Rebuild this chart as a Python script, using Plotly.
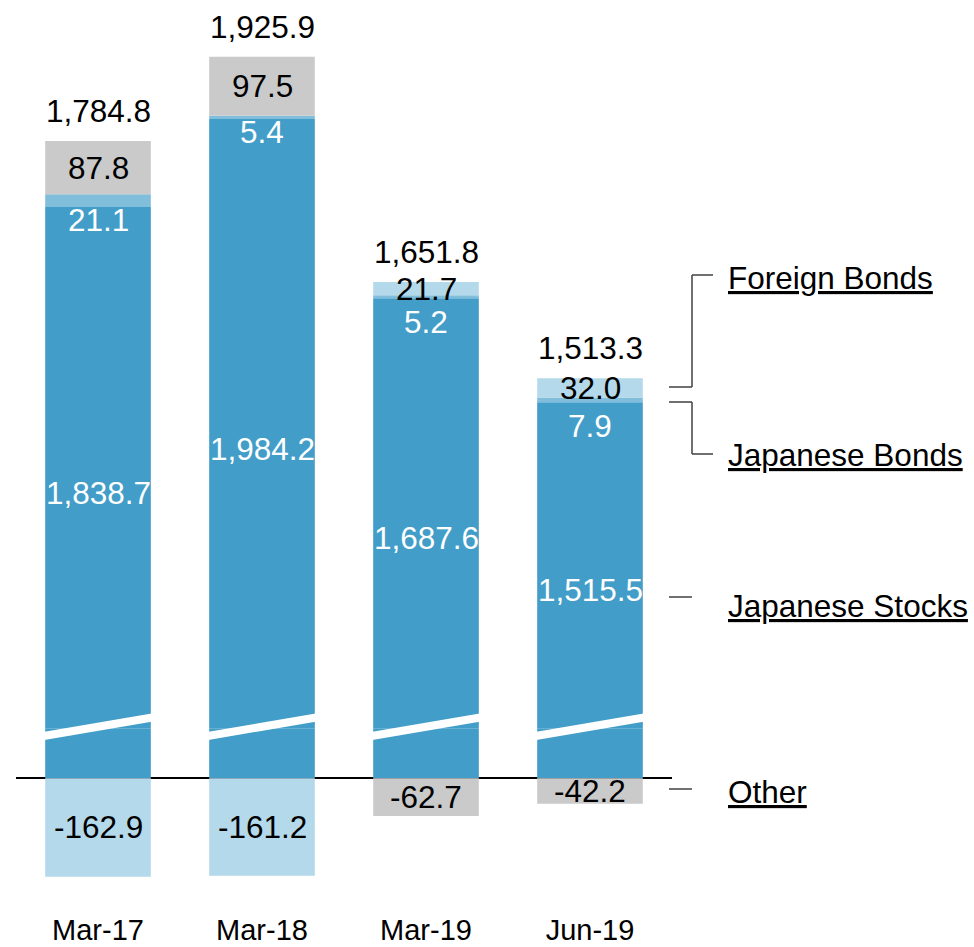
import plotly.graph_objects as go

# Unrealized gains/losses by asset class (billions of yen)
periods = ["Mar-17", "Mar-18", "Mar-19", "Jun-19"]
japanese_stocks = [1838.7, 1984.2, 1687.6, 1515.5]
japanese_bonds = [21.1, 5.4, 5.2, 7.9]
foreign_bonds = [-162.9, -161.2, 21.7, 32.0]
other = [87.8, 97.5, -62.7, -42.2]
totals = [1784.8, 1925.9, 1651.8, 1513.3]

series_names = ["Japanese Stocks", "Japanese Bonds", "Foreign Bonds", "Other"]
series_values = [japanese_stocks, japanese_bonds, foreign_bonds, other]
series_colors = ["#429DC8", "#80BEDC", "#B4D9EA", "#CACACA"]

FONT = "Arial, Liberation Sans, sans-serif"

# Broken value axis: lower panel holds the small values, upper panel the tall stacks
LOWER_RANGE = [-175, 85]
UPPER_RANGE = [979, 2118]
span_lo = LOWER_RANGE[1] - LOWER_RANGE[0]
span_up = UPPER_RANGE[1] - UPPER_RANGE[0]
split = span_lo / (span_lo + span_up)

W, H = 974, 947
M = dict(l=16, r=302, t=38, b=63)
plot_w = W - M["l"] - M["r"]
plot_h = H - M["t"] - M["b"]
px_per_unit = plot_h / (span_lo + span_up)

# let the two panels overlap by a couple of pixels so no seam shows at the break
OVERLAP_PX = 2
ov_units = OVERLAP_PX / px_per_unit
ov_frac = OVERLAP_PX / plot_h


def px_x(px):
    return (px - M["l"]) / plot_w


def px_y(py):
    return (H - M["b"] - py) / plot_h


fig = go.Figure()
for name, vals, col in zip(series_names, series_values, series_colors):
    for xa, ya in (("x", "y"), ("x2", "y2")):
        fig.add_trace(go.Bar(
            x=periods, y=vals, name=name, xaxis=xa, yaxis=ya,
            marker=dict(color=col, line=dict(width=0)),
            showlegend=False, hoverinfo="x+y+name",
        ))

annotations = []


def fmt(v):
    return f"{v:,.1f}"


def add_label(x, y, text, color, yref, yshift=0):
    annotations.append(dict(
        x=x, y=y, xref="x", yref=yref, text=text, showarrow=False,
        font=dict(family=FONT, size=31.5, color=color),
        xanchor="center", yanchor="middle", yshift=yshift,
    ))


for i, p in enumerate(periods):
    pos_base = 0.0
    neg_base = 0.0
    for k, vals in enumerate(series_values):
        v = vals[i]
        if v >= 0:
            lo, hi = pos_base, pos_base + v
            pos_base = hi
        else:
            lo, hi = neg_base + v, neg_base
            neg_base = lo
        if k == 0:
            # centre of the visible part of the broken bar
            visible = LOWER_RANGE[1] + (hi - UPPER_RANGE[0])
            mid = visible / 2
            if mid <= LOWER_RANGE[1]:
                add_label(p, mid, fmt(v), "white", "y")
            else:
                add_label(p, UPPER_RANGE[0] + mid - LOWER_RANGE[1], fmt(v), "white", "y2")
        elif k == 1:
            # thin slice: label sits just under it, lower when a label is stacked above
            crowded = foreign_bonds[i] > 0
            add_label(p, lo, fmt(v), "white", "y2", yshift=-(24 if crowded else 13))
        elif v >= 0:
            add_label(p, (lo + hi) / 2, fmt(v), "black", "y2")
        else:
            add_label(p, (lo + hi) / 2, fmt(v), "black", "y")
    add_label(p, pos_base, fmt(totals[i]), "black", "y2", yshift=30)

shapes = []
# white slanted break marks across each bar
for i in range(len(periods)):
    shapes.append(dict(
        type="line", xref="x", x0=i - 0.34, x1=i + 0.34,
        yref="paper", ysizemode="pixel", yanchor=split, y0=-9.5, y1=9.5,
        line=dict(color="white", width=8),
    ))

# bracket connectors for the side labels
line_style = dict(color="#404040", width=1.5)


def seg(x0, y0, x1, y1):
    shapes.append(dict(type="line", xref="paper", yref="paper",
                       x0=px_x(x0), y0=px_y(y0), x1=px_x(x1), y1=px_y(y1),
                       line=line_style))


seg(669, 387, 692, 387)
seg(692, 387, 692, 275)
seg(692, 275, 713, 275)
seg(669, 402, 692, 402)
seg(692, 402, 692, 454)
seg(692, 454, 713, 454)
seg(669, 597, 692, 597)
seg(669, 789, 692, 789)

for text, py in (("Foreign Bonds", 278), ("Japanese Bonds", 455),
                 ("Japanese Stocks", 606), ("Other", 792)):
    annotations.append(dict(
        x=px_x(726), y=px_y(py), xref="paper", yref="paper",
        text=f"<u>{text}</u>", showarrow=False,
        font=dict(family=FONT, size=31.5, color="black"),
        xanchor="left", yanchor="middle",
    ))

fig.update_layout(
    width=W, height=H, margin=M,
    paper_bgcolor="white", plot_bgcolor="white",
    barmode="relative", bargap=0.356,
    font=dict(family=FONT, color="black"),
    xaxis=dict(domain=[0, 1], anchor="y", showgrid=False, showline=False,
               ticks="", tickfont=dict(family=FONT, size=29, color="black"),
               ticklabelstandoff=26, automargin=False, fixedrange=True),
    xaxis2=dict(domain=[0, 1], anchor="y2", matches="x", visible=False),
    yaxis=dict(domain=[0, split + ov_frac],
               range=[LOWER_RANGE[0], LOWER_RANGE[1] + ov_units],
               showgrid=False, showticklabels=False, zeroline=True,
               zerolinecolor="black", zerolinewidth=2, showline=False,
               automargin=False),
    yaxis2=dict(domain=[split - ov_frac, 1],
                range=[UPPER_RANGE[0] - ov_units, UPPER_RANGE[1]],
                showgrid=False, showticklabels=False, zeroline=False,
                showline=False, automargin=False),
    annotations=annotations,
    shapes=shapes,
    showlegend=False,
)

fig.write_html("out.html")
